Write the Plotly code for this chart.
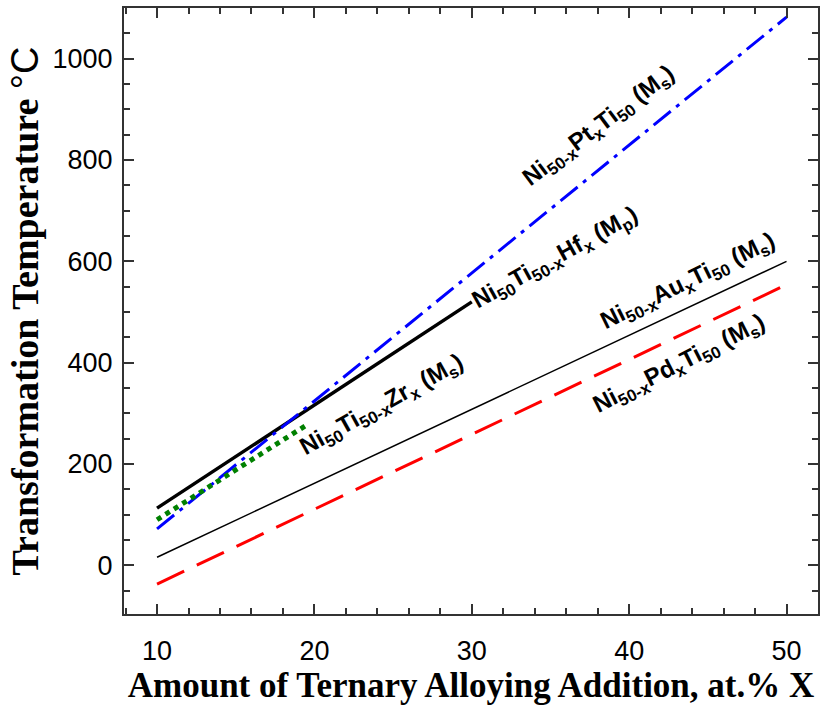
import plotly.graph_objects as go

# Data
pt_x = [10, 50]
pt_y = [72, 1082]
hf_x = [10, 30]
hf_y = [113, 520]
zr_x = [10, 19.4]
zr_y = [90, 275]
au_x = [10, 50]
au_y = [16, 600]
pd_x = [10, 50]
pd_y = [-37, 554]

labels = [
    ("Ni<sub>50-x</sub>Pt<sub>x</sub>Ti<sub>50</sub> (M<sub>s</sub>)", 38.1, 866, -37),
    ("Ni<sub>50</sub>Ti<sub>50-x</sub>Hf<sub>x</sub> (M<sub>p</sub>)", 35.3, 606, -29),
    ("Ni<sub>50-x</sub>Au<sub>x</sub>Ti<sub>50</sub> (M<sub>s</sub>)", 43.8, 560, -26),
    ("Ni<sub>50-x</sub>Pd<sub>x</sub>Ti<sub>50</sub> (M<sub>s</sub>)", 43.2, 396, -27),
    ("Ni<sub>50</sub>Ti<sub>50-x</sub>Zr<sub>x</sub> (M<sub>s</sub>)", 24.3, 315, -29),
]

fig = go.Figure()
fig.add_trace(go.Scatter(x=au_x, y=au_y, mode="lines", line=dict(color="black", width=1.5)))
fig.add_trace(go.Scatter(x=pd_x, y=pd_y, mode="lines", line=dict(color="red", width=3, dash="30px,14px")))
fig.add_trace(go.Scatter(x=hf_x, y=hf_y, mode="lines", line=dict(color="black", width=3.5)))
fig.add_trace(go.Scatter(x=pt_x, y=pt_y, mode="lines", line=dict(color="blue", width=3, dash="22px,7px,4px,7px")))
fig.add_trace(go.Scatter(x=zr_x, y=zr_y, mode="lines", line=dict(color="green", width=5, dash="dot")))

for text, x, y, ang in labels:
    fig.add_annotation(x=x, y=y, text=text, textangle=ang, showarrow=False,
                       font=dict(family="Liberation Sans, Arial", size=24, color="black", weight="bold"))

axis_common = dict(
    showgrid=False, zeroline=False, showline=True, linecolor="#333", linewidth=2,
    mirror="ticks", ticks="inside", ticklen=10, tickwidth=1.5, tickcolor="#333",
    tickfont=dict(family="Liberation Sans, Arial", size=27, color="black"),
)

fig.update_xaxes(range=[7.9, 52.0], dtick=10, tick0=10, ticklabelstandoff=12,
                 minor=dict(dtick=2, tick0=10, ticks="inside", ticklen=6, tickcolor="#333"),
                 title=dict(text="<b>Amount of Ternary Alloying Addition, at.% X</b>",
                            font=dict(family="Liberation Serif, Times New Roman", size=35, color="black"),
                            standoff=2),
                 **axis_common)
fig.update_yaxes(range=[-96, 1100], dtick=200, tick0=0, ticklabelstandoff=4,
                 minor=dict(dtick=50, tick0=0, ticks="inside", ticklen=6, tickcolor="#333"),
                 title=dict(text="<b>Transformation Temperature</b> <span style='font-family:Liberation Sans'>°C</span>",
                            font=dict(family="Liberation Serif, Times New Roman", size=38, color="black"),
                            standoff=2),
                 **axis_common)

fig.update_layout(width=827, height=715, margin=dict(l=124, r=9, t=6, b=101),
                  plot_bgcolor="white", paper_bgcolor="white", showlegend=False)

fig.write_html("out.html")
